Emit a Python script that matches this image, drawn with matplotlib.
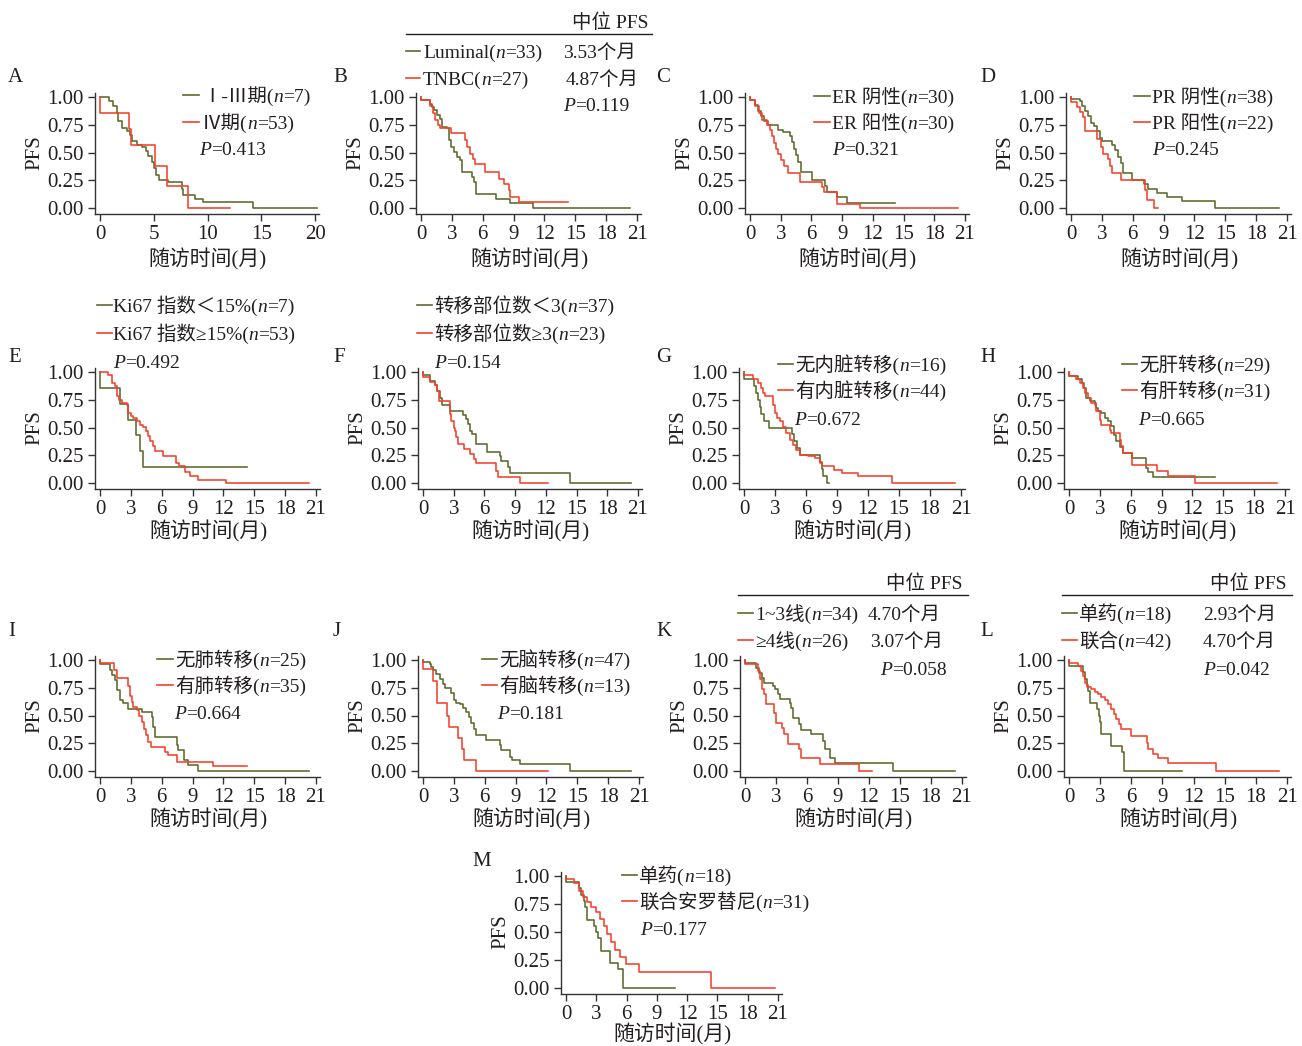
import matplotlib
matplotlib.use('Agg')
import matplotlib.pyplot as plt
from matplotlib.lines import Line2D

FAM = ['Liberation Serif', 'Noto Sans CJK SC']
plt.rcParams['font.family'] = FAM

# ---------------- data ----------------
Y_TICKS = [0.0, 0.25, 0.5, 0.75, 1.0]
Y_LABELS = ['0.00', '0.25', '0.50', '0.75', '1.00']
X_TICKS_A = [0, 5, 10, 15, 20]
X_TICKS = [0, 3, 6, 9, 12, 15, 18, 21]

# A
A_g_t = [0.8, 1.25, 1.55, 1.7, 2.0, 2.5, 2.75, 2.95, 3.4, 3.9, 4.3, 4.5, 4.8, 5.0, 5.25, 5.45, 6.35, 7.6, 7.75, 8.85, 9.6, 14.25]
A_g_s = [0.96, 0.92, 0.86, 0.78, 0.72, 0.69, 0.66, 0.60, 0.57, 0.55, 0.51, 0.47, 0.41, 0.36, 0.30, 0.25, 0.23, 0.17, 0.115, 0.08, 0.057, 0.0]
A_g_end = 20.2
A_r_t = [0, 2.7, 2.9, 5.1, 6.2, 8.2]
A_r_s = [0.857, 0.714, 0.571, 0.38, 0.2, 0.0]
A_r_end = 12.1
# B
B_g_t = [0, 0.84, 1.07, 1.3, 1.56, 1.88, 2.04, 2.53, 2.69, 2.92, 3.24, 3.5, 3.76, 3.99, 4.96, 5.18, 5.35, 7.32, 8.68, 10.89]
B_g_s = [0.97, 0.94, 0.91, 0.88, 0.84, 0.80, 0.727, 0.718, 0.612, 0.55, 0.506, 0.46, 0.43, 0.324, 0.28, 0.233, 0.127, 0.082, 0.042, 0.0]
B_g_end = 20.35
B_r_t = [0, 0.91, 1.17, 1.39, 1.62, 1.88, 2.92, 4.31, 4.47, 4.73, 5.06, 5.28, 6.25, 7.55, 8.04, 8.52, 8.68, 9.49]
B_r_s = [0.97, 0.915, 0.855, 0.794, 0.748, 0.718, 0.679, 0.612, 0.552, 0.485, 0.445, 0.40, 0.324, 0.264, 0.218, 0.158, 0.103, 0.052]
B_r_end = 14.26
# C
C_g_t = [0, 0.49, 0.81, 1.07, 1.4, 1.73, 2.77, 3.26, 3.91, 4.14, 4.33, 4.49, 4.72, 4.95, 6.02, 7.33, 7.49, 8.47, 9.44]
C_g_s = [0.976, 0.93, 0.87, 0.825, 0.78, 0.75, 0.70, 0.685, 0.645, 0.595, 0.535, 0.477, 0.417, 0.326, 0.251, 0.196, 0.145, 0.10, 0.045]
C_g_end = 14.16
C_r_t = [0, 0.49, 0.88, 1.2, 1.63, 1.95, 2.18, 2.38, 2.54, 2.77, 3.03, 3.35, 3.68, 4.88, 7.0, 7.26, 8.47, 10.75]
C_r_s = [0.976, 0.92, 0.855, 0.795, 0.75, 0.705, 0.65, 0.583, 0.53, 0.483, 0.432, 0.378, 0.311, 0.236, 0.19, 0.145, 0.04, 0.0]
C_r_end = 20.35
# D
D_g_t = [0, 0.88, 1.1, 1.36, 1.69, 1.91, 2.24, 2.56, 2.82, 3.05, 3.96, 4.28, 4.61, 4.84, 5.1, 5.91, 7.14, 7.47, 8.34, 9.32, 10.78, 14.02]
D_g_s = [0.98, 0.96, 0.915, 0.87, 0.825, 0.77, 0.735, 0.69, 0.63, 0.60, 0.568, 0.523, 0.462, 0.402, 0.311, 0.25, 0.215, 0.175, 0.136, 0.10, 0.063, 0.0]
D_g_end = 20.19
D_r_t = [0, 0.55, 0.88, 1.2, 1.36, 2.56, 2.89, 3.15, 3.57, 3.8, 3.96, 4.87, 7.2, 7.37, 8.08]
D_r_s = [0.955, 0.91, 0.864, 0.82, 0.694, 0.625, 0.55, 0.49, 0.445, 0.376, 0.311, 0.25, 0.166, 0.076, 0.0]
D_r_end = 8.5
# E
E_g_t = [0, 1.94, 2.75, 3.5, 3.9, 4.2]
E_g_s = [0.857, 0.714, 0.571, 0.429, 0.286, 0.143]
E_g_end = 14.3
E_r_t = [0.8, 1.13, 1.46, 1.62, 1.85, 2.1, 2.6, 2.75, 2.98, 3.24, 3.56, 3.9, 4.2, 4.47, 4.7, 4.9, 5.18, 5.35, 6.16, 7.39, 7.7, 8.26, 8.75, 9.56, 12.25]
E_r_s = [0.97, 0.9, 0.87, 0.78, 0.75, 0.72, 0.705, 0.63, 0.60, 0.585, 0.555, 0.525, 0.505, 0.465, 0.42, 0.375, 0.33, 0.285, 0.24, 0.18, 0.15, 0.096, 0.066, 0.03, 0.0]
E_r_end = 20.35
# F
F_g_t = [0, 0.65, 1.14, 1.37, 1.63, 1.9, 2.6, 3.9, 4.17, 4.4, 4.56, 4.82, 5.2, 6.25, 7.5, 7.65, 8.3, 8.47, 14.33]
F_g_s = [0.97, 0.92, 0.88, 0.83, 0.77, 0.70, 0.65, 0.61, 0.58, 0.53, 0.47, 0.44, 0.35, 0.28, 0.24, 0.20, 0.14, 0.087, 0.0]
F_g_end = 20.36
F_r_t = [0, 0.65, 1.14, 1.37, 1.56, 2.6, 2.77, 3.0, 3.1, 3.26, 3.42, 3.97, 4.63, 4.95, 5.21, 7.17, 7.33, 9.51]
F_r_s = [0.957, 0.91, 0.88, 0.83, 0.74, 0.62, 0.56, 0.50, 0.47, 0.41, 0.35, 0.31, 0.26, 0.22, 0.18, 0.11, 0.057, 0.0]
F_r_end = 12.2
# G
G_g_t = [0, 1.0, 1.2, 1.4, 1.55, 1.65, 1.95, 2.4, 4.65, 4.85, 5.1, 5.4, 7.4, 7.5, 7.65, 8.0]
G_g_s = [0.9375, 0.875, 0.8125, 0.75, 0.6875, 0.625, 0.5625, 0.5, 0.4375, 0.375, 0.3125, 0.25, 0.1875, 0.125, 0.0625, 0.0]
G_g_end = 8.2
G_r_t = [0, 0.87, 1.36, 1.62, 1.84, 2.0, 2.81, 2.97, 3.23, 3.46, 3.78, 4.1, 4.43, 4.75, 5.07, 5.4, 6.2, 6.85, 7.33, 7.5, 8.72, 9.5, 10.99, 14.35]
G_r_s = [0.977, 0.94, 0.9, 0.855, 0.81, 0.78, 0.705, 0.63, 0.585, 0.555, 0.505, 0.45, 0.39, 0.345, 0.30, 0.255, 0.24, 0.225, 0.18, 0.15, 0.12, 0.09, 0.06, 0.0]
G_r_end = 20.42
# H
H_g_t = [0, 0.88, 1.27, 1.46, 1.69, 2.0, 2.5, 2.66, 2.82, 3.15, 3.47, 3.8, 4.12, 4.38, 4.6, 4.93, 5.26, 6.14, 7.53, 7.7, 8.18]
H_g_s = [0.965, 0.94, 0.9, 0.855, 0.765, 0.735, 0.72, 0.675, 0.645, 0.63, 0.585, 0.555, 0.51, 0.435, 0.375, 0.325, 0.27, 0.225, 0.135, 0.096, 0.054]
H_g_end = 14.19
H_r_t = [0, 0.71, 1.04, 1.36, 1.53, 1.85, 2.11, 2.5, 2.66, 2.99, 3.08, 3.96, 4.12, 4.93, 5.1, 5.26, 6.14, 8.6, 9.58, 12.24]
H_r_s = [0.968, 0.94, 0.9, 0.855, 0.81, 0.765, 0.72, 0.705, 0.645, 0.57, 0.525, 0.48, 0.45, 0.39, 0.33, 0.27, 0.165, 0.105, 0.06, 0.0]
H_r_end = 20.2
# I
I_g_t = [0, 0.97, 1.2, 1.46, 1.68, 1.94, 2.27, 2.75, 4.05, 5.02, 5.18, 5.35, 7.45, 7.6, 8.17, 8.59, 9.56]
I_g_s = [0.96, 0.91, 0.865, 0.82, 0.73, 0.64, 0.61, 0.555, 0.53, 0.49, 0.40, 0.31, 0.23, 0.19, 0.10, 0.05, 0.0]
I_g_end = 20.35
I_r_t = [0, 1.39, 1.62, 2.75, 2.92, 3.08, 3.24, 3.63, 3.82, 4.05, 4.28, 4.47, 4.7, 4.93, 6.32, 6.64, 7.45, 10.95]
I_r_s = [0.971, 0.91, 0.84, 0.77, 0.68, 0.62, 0.578, 0.548, 0.5, 0.44, 0.38, 0.32, 0.26, 0.217, 0.17, 0.14, 0.08, 0.045]
I_r_end = 14.26
# J
J_g_t = [0, 0.65, 0.81, 0.97, 1.3, 1.62, 1.94, 2.1, 2.75, 2.98, 3.24, 3.56, 3.89, 4.21, 4.47, 4.7, 4.93, 5.18, 6.16, 7.45, 7.61, 8.42, 8.68, 9.46, 14.26]
J_g_s = [0.98, 0.96, 0.935, 0.91, 0.875, 0.83, 0.78, 0.745, 0.70, 0.64, 0.61, 0.60, 0.566, 0.53, 0.49, 0.43, 0.38, 0.32, 0.28, 0.23, 0.187, 0.127, 0.096, 0.06, 0.0]
J_g_end = 20.25
J_r_t = [0, 0.97, 1.36, 2.33, 2.53, 3.4, 3.82, 3.95, 5.18]
J_r_s = [0.92, 0.81, 0.61, 0.50, 0.40, 0.30, 0.20, 0.10, 0.0]
J_r_end = 12.15
# K
K_g_t = [0, 1.07, 1.39, 1.62, 1.81, 2.69, 2.92, 3.18, 3.43, 4.31, 4.47, 4.63, 5.18, 5.38, 6.35, 7.55, 7.71, 8.2, 8.68, 14.36]
K_g_s = [0.97, 0.93, 0.885, 0.84, 0.795, 0.765, 0.735, 0.69, 0.645, 0.615, 0.57, 0.48, 0.42, 0.366, 0.33, 0.27, 0.195, 0.12, 0.075, 0.0]
K_g_end = 20.35
K_r_t = [0, 1.3, 1.49, 1.62, 1.88, 2.04, 2.85, 3.01, 3.56, 3.82, 4.15, 5.18, 5.38, 7.23, 11.02]
K_r_s = [0.96, 0.9, 0.825, 0.735, 0.69, 0.60, 0.525, 0.435, 0.39, 0.33, 0.246, 0.195, 0.12, 0.06, 0.0]
K_r_end = 12.25
# L
L_g_t = [0, 1.35, 1.51, 1.7, 1.85, 2.0, 2.74, 2.87, 2.96, 3.06, 4.03, 5.12, 5.31]
L_g_s = [0.944, 0.889, 0.833, 0.778, 0.722, 0.611, 0.556, 0.5, 0.444, 0.333, 0.222, 0.167, 0.0]
L_g_end = 10.85
L_r_t = [0, 0.87, 1.19, 1.35, 1.51, 1.77, 2.16, 2.48, 2.8, 3.12, 3.45, 3.77, 4.09, 4.35, 4.57, 4.8, 4.99, 6.02, 7.47, 7.63, 8.12, 8.6, 9.5, 14.14]
L_r_s = [0.976, 0.946, 0.9, 0.855, 0.795, 0.757, 0.736, 0.715, 0.69, 0.667, 0.637, 0.6, 0.556, 0.51, 0.465, 0.42, 0.375, 0.315, 0.255, 0.195, 0.15, 0.12, 0.075, 0.0]
L_r_end = 20.2
# M
M_g_t = [0, 1.3, 1.5, 1.75, 1.9, 2.1, 2.8, 3.0, 3.2, 3.5, 4.4, 5.2, 5.6]
M_g_s = [0.944, 0.889, 0.833, 0.778, 0.722, 0.611, 0.556, 0.5, 0.444, 0.333, 0.222, 0.167, 0.0]
M_g_end = 10.8
M_r_t = [0, 0.8, 1.3, 1.7, 2.1, 2.5, 3.0, 3.4, 3.8, 4.1, 4.5, 4.9, 5.3, 5.9, 7.2, 14.4]
M_r_s = [0.97, 0.94, 0.87, 0.81, 0.77, 0.72, 0.68, 0.62, 0.55, 0.48, 0.41, 0.34, 0.28, 0.21, 0.14, 0.0]
M_r_end = 20.7

# ---------------- drawing ----------------
W, H = 1302, 1046
fig = plt.figure(figsize=(W / 100, H / 100), dpi=100)
fig.patch.set_facecolor('white')
R = fig.canvas.get_renderer()

GREEN = '#5a6b2c'
RED = '#f4402b'
TXT = '#231f20'
LEG = 14
BIG = 15


def fx(px):
    return px / W


def fy(py):
    return 1 - py / H


def rich(x, y, s, size=LEG, ha='left'):
    parts = [(p, i % 2 == 1) for i, p in enumerate(s.split('*')) if p]
    spx = size * 100 / 72
    base = y + 0.36 * spx
    objs = []
    cur = x
    for p, it in parts:
        t = fig.text(fx(cur), fy(base), p, fontsize=size, color=TXT,
                     style='italic' if it else 'normal', ha='left', va='baseline')
        cur += t.get_window_extent(R).width
        objs.append(t)
    if ha == 'right':
        tot = cur - x
        for t in objs:
            t.set_x(t.get_position()[0] - tot / W)
    return cur


def legline(x1, x2, y, color):
    fig.add_artist(Line2D([fx(x1), fx(x2)], [fy(y), fy(y)], color=color, lw=1.2))


def panel(letter, lx, ly, x0, xr, y1, y0, xmax, xticks, curves, xl_off=49):
    ppu = (xr - x0) / xmax
    ypu = (y0 - y1)
    left, right, top, bottom = x0 - 5, xr + 4, y1 - 4, y0 + 6
    ax = fig.add_axes([fx(left), fy(bottom), (right - left) / W, (bottom - top) / H])
    ax.set_xlim((left - x0) / ppu, (right - x0) / ppu)
    ax.set_ylim((y0 - bottom) / ypu, (y0 - top) / ypu)
    ax.patch.set_alpha(0)
    for sp in ['top', 'right']:
        ax.spines[sp].set_visible(False)
    for sp in ['left', 'bottom']:
        ax.spines[sp].set_linewidth(1.0)
        ax.spines[sp].set_color('#333333')
    ax.set_xticks(xticks)
    ax.set_xticklabels([str(v) for v in xticks])
    ax.set_yticks(Y_TICKS)
    ax.set_yticklabels(Y_LABELS)
    ax.tick_params(direction='out', length=5, width=1, labelsize=BIG, pad=3,
                   colors='#333333', labelcolor=TXT)
    for t, s, end, col in curves:
        ax.step([0] + t + [end], [1.0] + s + [s[-1]], where='post',
                color=col, lw=1.15, clip_on=False)
    fig.text(fx(left - 60), fy((y1 + y0) / 2), 'PFS', rotation=90, fontsize=BIG,
             color=TXT, ha='center', va='center')
    fig.text(fx((x0 + xr) / 2), fy(y0 + xl_off), '随访时间(月)', fontsize=BIG,
             color=TXT, ha='center', va='center')
    fig.text(fx(lx), fy(ly), letter, fontsize=BIG, color=TXT, ha='left', va='center')
    return ax


def legend2(lx1, lx2, tx, ya, yb, la, lb, px, py, pval):
    legline(lx1, lx2, ya, GREEN)
    rich(tx, ya, la)
    legline(lx1, lx2, yb, RED)
    rich(tx, yb, lb)
    rich(px, py, '*P*=' + pval)


# Row 1
panel('A', 8, 77, 100, 315, 97, 208, 20, X_TICKS_A,
      [(A_g_t, A_g_s, A_g_end, GREEN), (A_r_t, A_r_s, A_r_end, RED)], 51)
legend2(183, 199, 202, 95, 122, 'Ⅰ-Ⅲ期(*n*=7)', 'Ⅳ期(*n*=53)', 199, 148, '0.413')

panel('B', 333, 77, 421, 637, 97, 208, 21, X_TICKS,
      [(B_g_t, B_g_s, B_g_end, GREEN), (B_r_t, B_r_s, B_r_end, RED)], 51)
rich(648, 21, '中位 PFS', ha='right')
fig.add_artist(Line2D([fx(406), fx(652)], [fy(34), fy(34)], color=TXT, lw=1.0))
legline(406, 420, 51, GREEN)
rich(423, 51, 'Luminal(*n*=33)')
rich(563, 51, '3.53个月')
legline(406, 420, 78, RED)
rich(423, 78, 'TNBC(*n*=27)')
rich(566, 78, '4.87个月')
rich(563, 104, '*P*=0.119')

panel('C', 656, 77, 750, 965, 97, 208, 21, X_TICKS,
      [(C_g_t, C_g_s, C_g_end, GREEN), (C_r_t, C_r_s, C_r_end, RED)], 51)
legend2(814, 830, 832, 96, 122, 'ER 阴性(*n*=30)', 'ER 阳性(*n*=30)', 832, 148, '0.321')

panel('D', 980, 77, 1071, 1287, 97, 208, 21, X_TICKS,
      [(D_g_t, D_g_s, D_g_end, GREEN), (D_r_t, D_r_s, D_r_end, RED)], 51)
legend2(1134, 1150, 1152, 96, 122, 'PR 阴性(*n*=38)', 'PR 阳性(*n*=22)', 1152, 148, '0.245')

# Row 2
panel('E', 8, 357, 100, 316, 372, 483, 21, X_TICKS,
      [(E_g_t, E_g_s, E_g_end, GREEN), (E_r_t, E_r_s, E_r_end, RED)], 48)
legend2(97, 112, 113, 305, 333, 'Ki67 指数＜15%(*n*=7)', 'Ki67 指数≥15%(*n*=53)', 113, 361, '0.492')

panel('F', 333, 357, 423, 638, 372, 483, 21, X_TICKS,
      [(F_g_t, F_g_s, F_g_end, GREEN), (F_r_t, F_r_s, F_r_end, RED)], 48)
legend2(417, 432, 434, 305, 333, '转移部位数＜3(*n*=37)', '转移部位数≥3(*n*=23)', 434, 361, '0.154')

panel('G', 656, 357, 744, 961, 372, 483, 21, X_TICKS,
      [(G_g_t, G_g_s, G_g_end, GREEN), (G_r_t, G_r_s, G_r_end, RED)], 48)
legend2(778, 793, 795, 364, 390, '无内脏转移(*n*=16)', '有内脏转移(*n*=44)', 794, 418, '0.672')

panel('H', 980, 357, 1069, 1285, 372, 483, 21, X_TICKS,
      [(H_g_t, H_g_s, H_g_end, GREEN), (H_r_t, H_r_s, H_r_end, RED)], 48)
legend2(1122, 1137, 1139, 364, 390, '无肝转移(*n*=29)', '有肝转移(*n*=31)', 1138, 418, '0.665')

# Row 3
panel('I', 8, 632, 100, 316, 660, 771, 21, X_TICKS,
      [(I_g_t, I_g_s, I_g_end, GREEN), (I_r_t, I_r_s, I_r_end, RED)], 48)
legend2(157, 173, 175, 659, 685, '无肺转移(*n*=25)', '有肺转移(*n*=35)', 174, 712, '0.664')

panel('J', 333, 632, 423, 639, 660, 771, 21, X_TICKS,
      [(J_g_t, J_g_s, J_g_end, GREEN), (J_r_t, J_r_s, J_r_end, RED)], 48)
legend2(482, 497, 499, 659, 685, '无脑转移(*n*=47)', '有脑转移(*n*=13)', 497, 712, '0.181')

panel('K', 656, 632, 745, 962, 660, 771, 21, X_TICKS,
      [(K_g_t, K_g_s, K_g_end, GREEN), (K_r_t, K_r_s, K_r_end, RED)], 48)
rich(963, 582, '中位 PFS', ha='right')
fig.add_artist(Line2D([fx(738), fx(968)], [fy(595), fy(595)], color=TXT, lw=1.0))
legline(738, 753, 613, GREEN)
rich(755, 613, '1~3线(*n*=34)')
rich(868, 613, '4.70个月')
legline(738, 753, 640, RED)
rich(755, 640, '≥4线(*n*=26)')
rich(870, 640, '3.07个月')
rich(880, 668, '*P*=0.058')

panel('L', 980, 632, 1069, 1287, 660, 771, 21, X_TICKS,
      [(L_g_t, L_g_s, L_g_end, GREEN), (L_r_t, L_r_s, L_r_end, RED)], 48)
rich(1287, 582, '中位 PFS', ha='right')
fig.add_artist(Line2D([fx(1062), fx(1292)], [fy(595), fy(595)], color=TXT, lw=1.0))
legline(1062, 1077, 613, GREEN)
rich(1079, 613, '单药(*n*=18)')
rich(1203, 613, '2.93个月')
legline(1062, 1077, 640, RED)
rich(1079, 640, '联合(*n*=42)')
rich(1203, 640, '4.70个月')
rich(1203, 668, '*P*=0.042')

# Row 4
panel('M', 472, 862, 566, 778, 876, 988, 21, X_TICKS,
      [(M_g_t, M_g_s, M_g_end, GREEN), (M_r_t, M_r_s, M_r_end, RED)], 46)
legend2(622, 637, 639, 875, 901, '单药(*n*=18)', '联合安罗替尼(*n*=31)', 640, 928, '0.177')

fig.savefig('out.png', dpi=100, facecolor='white')
